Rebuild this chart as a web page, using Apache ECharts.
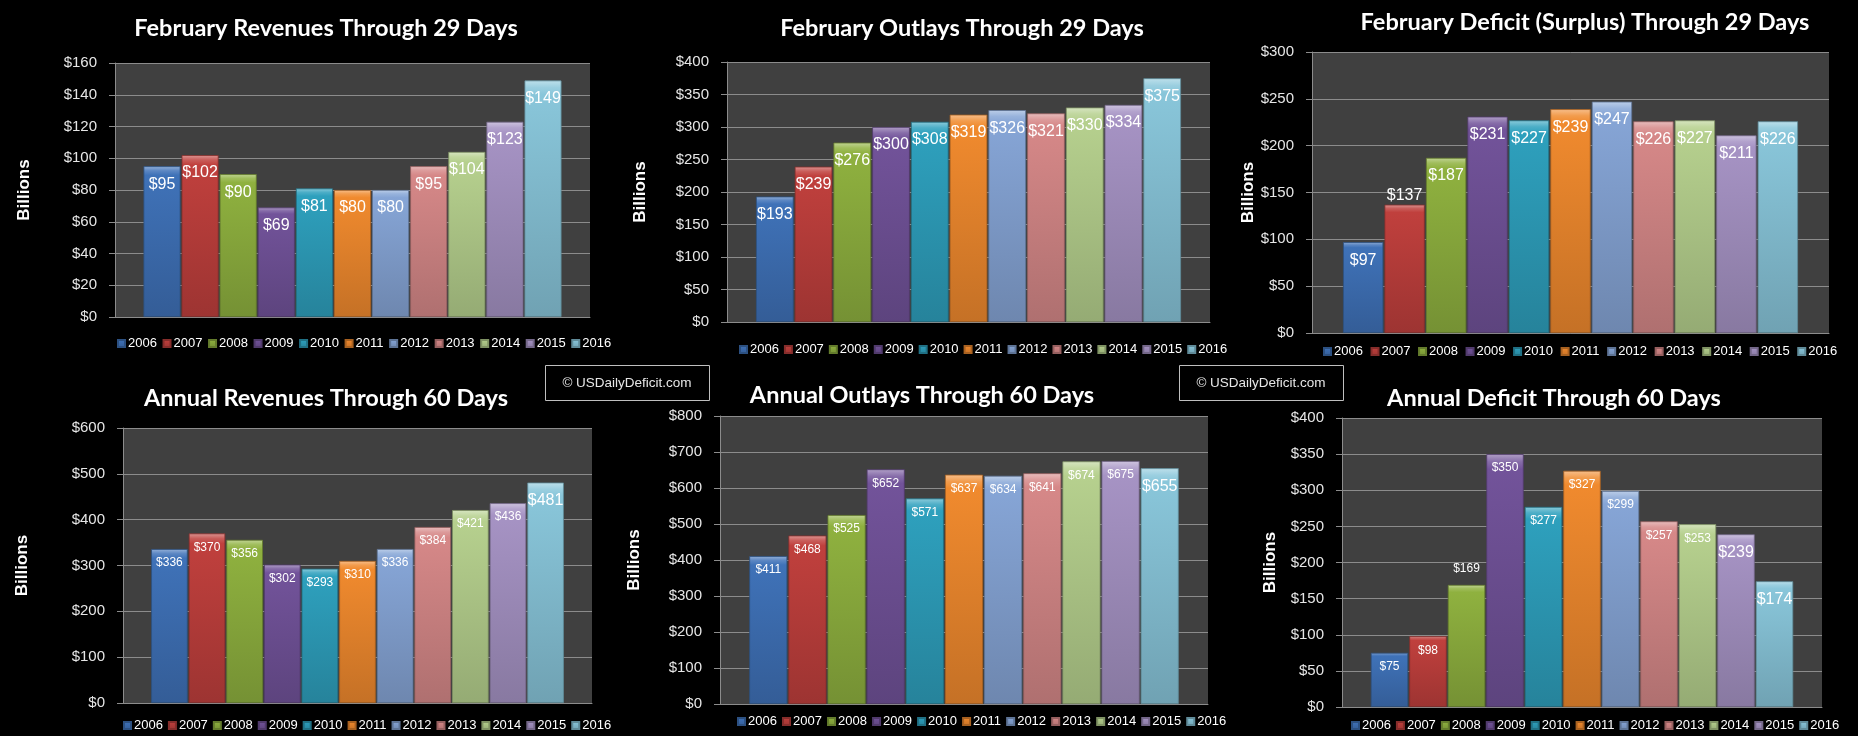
<!DOCTYPE html>
<html><head><meta charset="utf-8">
<script src="https://cdn.jsdelivr.net/npm/echarts@6/dist/echarts.min.js"></script>
<style>html,body{margin:0;padding:0;background:#000;}#c{width:1858px;height:736px;}</style>
</head><body><div id="c"></div>
<script>
// ---- data ----
const years = ['2006','2007','2008','2009','2010','2011','2012','2013','2014','2015','2016'];
const febRevenues = [95, 102, 90, 69, 81, 80, 80, 95, 104, 123, 149];
const febOutlays  = [193, 239, 276, 300, 308, 319, 326, 321, 330, 334, 375];
const febDeficit  = [97, 137, 187, 231, 227, 239, 247, 226, 227, 211, 226];
const annRevenues = [336, 370, 356, 302, 293, 310, 336, 384, 421, 436, 481];
const annOutlays  = [411, 468, 525, 652, 571, 637, 634, 641, 674, 675, 655];
const annDeficit  = [75, 98, 169, 350, 277, 327, 299, 257, 253, 239, 174];
const titles = ['February Revenues Through 29 Days','February Outlays Through 29 Days','February Deficit (Surplus) Through 29 Days',
                'Annual Revenues Through 60 Days','Annual Outlays Through 60 Days','Annual Deficit Through 60 Days'];
const yMax  = [160, 400, 300, 600, 800, 400];
const yStep = [20, 50, 50, 100, 100, 50];
const axisName = 'Billions';
const watermark = '\u00A9 USDailyDeficit.com';

// ---- styles / layout ----
const colors = ['#3f72b8','#c0403d','#8fb13f','#72539a','#2ea0bd','#f08a2e','#86a5d6','#d68888','#b6d08e','#a693c4','#89c6da'];
const layout = [
  {grid:{left:115,top:63,width:475,height:254}, tx:326, ty:28, nameGap:82, lgLeft:117, lgTop:337, lgGap:5.6, small:false, big:[], outside:{}},
  {grid:{left:727,top:62,width:483,height:260}, tx:962, ty:28, nameGap:78, lgLeft:739, lgTop:343, lgGap:5.0, small:false, big:[], outside:{}},
  {grid:{left:1312,top:52,width:517,height:281}, tx:1585, ty:22, nameGap:55, lgLeft:1323, lgTop:345, lgGap:7.6, small:false, big:[], outside:{1:1}},
  {grid:{left:123,top:428,width:469,height:275}, tx:326, ty:398, nameGap:92, lgLeft:123, lgTop:719, lgGap:5.0, small:true, big:[10], outside:{}},
  {grid:{left:720,top:416,width:488,height:288}, tx:922, ty:395, nameGap:77, lgLeft:737, lgTop:715, lgGap:5.1, small:true, big:[10], outside:{}},
  {grid:{left:1342,top:418,width:480,height:289}, tx:1554, ty:398, nameGap:63, lgLeft:1351, lgTop:719, lgGap:5.0, small:true, big:[9,10], outside:{2:10}}
];
const panelData = [febRevenues, febOutlays, febDeficit, annRevenues, annOutlays, annDeficit];

function shade(hex, f){
  const n = parseInt(hex.slice(1),16);
  let r = n>>16, g = (n>>8)&255, b = n&255;
  const t = f<0 ? 0 : 255, p = Math.abs(f);
  r = Math.round((t-r)*p + r); g = Math.round((t-g)*p + g); b = Math.round((t-b)*p + b);
  return 'rgb('+r+','+g+','+b+')';
}
function barFill(c){
  return {type:'linear', x:0, y:0, x2:0, y2:1, colorStops:[
    {offset:0, color:shade(c,0.45)},
    {offset:0.03, color:shade(c,0.15)},
    {offset:0.06, color:c},
    {offset:1, color:shade(c,-0.18)}
  ]};
}

const FONT = 'Liberation Sans, Arial, sans-serif';
const grid = [], xAxis = [], yAxis = [], series = [], legend = [], graphic = [];

layout.forEach((L, p) => {
  grid.push(Object.assign({show:true, backgroundColor:'#404040', borderWidth:0}, L.grid));
  xAxis.push({type:'category', gridIndex:p, data:[''],
    axisLine:{show:true, lineStyle:{color:'#8c8c8c', width:1}},
    axisTick:{show:false}, axisLabel:{show:false}});
  yAxis.push({type:'value', gridIndex:p, min:0, max:yMax[p], interval:yStep[p],
    name:axisName, nameLocation:'middle', nameGap:L.nameGap, nameRotate:90,
    nameTextStyle:{color:'#fff', fontSize:17, fontWeight:'bold', fontFamily:FONT},
    axisLine:{show:true, lineStyle:{color:'#8c8c8c'}},
    axisTick:{show:true, length:6, lineStyle:{color:'#8c8c8c'}},
    splitLine:{show:true, lineStyle:{color:'#8c8c8c', width:1}},
    axisLabel:{color:'#e6e6e6', fontSize:15, fontFamily:FONT, margin:18, formatter: v => '$' + v}});
  years.forEach((yr, i) => {
    const isBig = !L.small || L.big.indexOf(i) >= 0;
    const out = L.outside[i];
    series.push({
      type:'bar', name:yr, xAxisIndex:p, yAxisIndex:p,
      data:[panelData[p][i]],
      barCategoryGap:'12%', barGap:'3%',
      itemStyle:{color:barFill(colors[i]), borderColor:shade(colors[i],-0.3), borderWidth:0.8},
      label:{show:true, position: out !== undefined ? 'top' : 'insideTop',
        distance: out !== undefined ? out : (isBig ? 10 : 8),
        color:'#fff', fontFamily:FONT, fontSize: isBig ? 16 : 12,
        formatter: prm => '$' + prm.value},
      emphasis:{disabled:true}
    });
  });
  legend.push({data:years, left:L.lgLeft, top:L.lgTop, itemWidth:7, itemHeight:7, itemGap:L.lgGap,
    icon:'rect', padding:0, selectedMode:false,
    textStyle:{color:'#fff', fontSize:13, fontFamily:FONT, padding:[0,0,0,-2]}});
  graphic.push({type:'text', x:L.tx, y:L.ty, silent:true,
    style:{text:titles[p], fill:'#fff', font:'bold 23.5px Lato, sans-serif', align:'center', verticalAlign:'middle'}});
});

[[545,365],[1179,365]].forEach(([x,y]) => {
  graphic.push({type:'rect', x:x, y:y, silent:true, shape:{x:0.5, y:0.5, width:164, height:35},
    style:{fill:'#000', stroke:'#bfbfbf', lineWidth:1}});
  graphic.push({type:'text', x:x+82, y:y+18, silent:true,
    style:{text:watermark, fill:'#e6e6e6', font:'13.5px ' + FONT, align:'center', verticalAlign:'middle'}});
});

const chart = echarts.init(document.getElementById('c'), null, {renderer:'canvas'});
chart.setOption({backgroundColor:'#000', animation:false, grid, xAxis, yAxis, series, legend, graphic});
</script>
</body></html>
